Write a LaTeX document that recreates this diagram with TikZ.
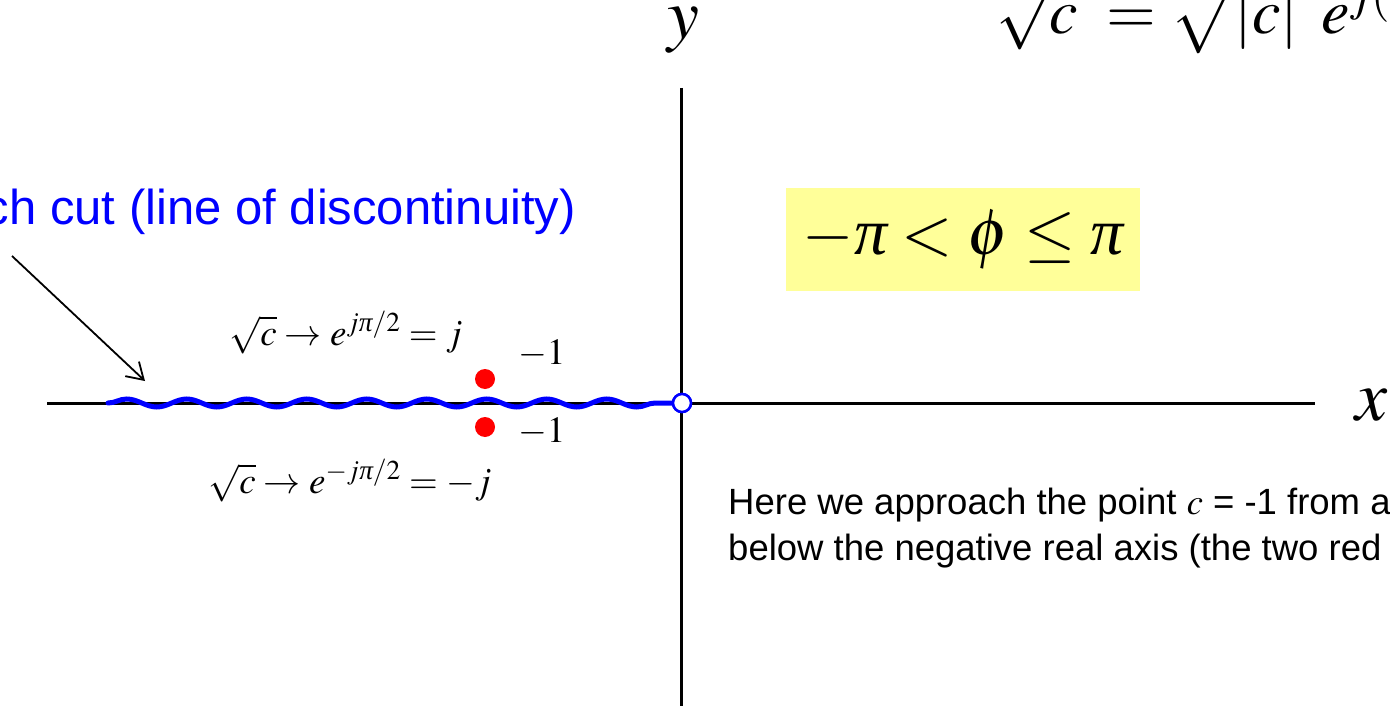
\documentclass[tikz,border=0pt]{standalone}
\usepackage{mathptmx}
\usepackage{amsmath}
\usepackage{fontspec}
\setmainfont{Liberation Serif}
\setsansfont{Liberation Sans}
\usetikzlibrary{decorations.pathmorphing,arrows.meta}
\definecolor{yfill}{HTML}{FFFF99}
\newcommand{\ipi}{\text{\rmfamily\itshape π}}
\tikzset{
  axis/.style={line width=3pt, black},
  cut/.style={blue, line width=5pt, line cap=round, decorate, decoration={snake, segment length=60pt, amplitude=4pt}},
  reddot/.style={circle, fill=red, minimum size=20pt, inner sep=0pt},
  mlbl/.style={inner sep=0pt, font=\fontsize{37}{44}\selectfont},
  fml/.style={inner sep=0pt, font=\fontsize{37}{44}\selectfont},
  pointer/.style={line width=1.8pt, -{Straight Barb[length=16pt,width=20pt,line width=1.8pt]}},
}
\begin{document}
\begin{tikzpicture}[x=1pt,y=-1pt]
\useasboundingbox (0,0) rectangle (1390,706);
\clip (0,0) rectangle (1390,706);
% axes
\coordinate (xl) at (47,403);
\coordinate (xr) at (1315,403);
\coordinate (yt) at (681,88);
\coordinate (yb) at (681,710);
\draw[axis] (xl) -- (xr);
\draw[axis] (yt) -- (yb);
\node[inner sep=0pt, font=\fontsize{72}{80}\selectfont] (ylab) at (683,30) {$y$};
\node[inner sep=0pt, font=\fontsize{72}{80}\selectfont] (xlab) at (1372,405) {$x$};
% branch cut
\node[circle, draw=blue, fill=white, line width=2.5pt, minimum size=18pt, inner sep=0pt] (o) at (682,403) {};
\coordinate (cs) at (108,403);
\draw[cut] (cs) -- (o.west);
\node[circle, draw=blue, fill=white, line width=2.5pt, minimum size=18pt, inner sep=0pt] (o2) at (682,403) {};
% red dots
\node[reddot] (p1) at (485,379) {};
\node[reddot] (p2) at (485,427) {};
\node[mlbl, anchor=west] (m1) at (518,354) {$-1$};
\node[mlbl, anchor=west] (m2) at (518,432) {$-1$};
% formulas
\node[fml] (fu) at (346,333) {$\sqrt{c}\to e^{j\ipi/2}=j$};
\node[fml] (fl) at (350,481) {$\sqrt{c}\to e^{-j\ipi/2}=-j$};
% yellow box
\node[fill=yfill, minimum width=354pt, minimum height=103pt, inner sep=0pt, font=\fontsize{66}{78}\selectfont] (box) at (963,239.5) {$-\ipi<\phi\le\ipi$};
% top formula
\node[anchor=base west, inner sep=0pt, font=\fontsize{64}{76}\selectfont] (top) at (996,34) {$\sqrt{c}\;=\sqrt{|c|}\ \,e^{j(\phi/2)}$};
% branch cut label
\node[anchor=base east, inner sep=0pt, text=blue, font=\sffamily\fontsize{49}{58}\selectfont] (bc) at (576,224) {Branch cut (line of discontinuity)};
\coordinate (as) at (12,256);
\coordinate (ae) at (145,381);
\draw[pointer] (as) -- (ae);
% explanation
\node[anchor=base west, inner sep=0pt, align=left, font=\sffamily\fontsize{36.5}{46}\selectfont] (txt) at (728,560) {Here we approach the point $c$ = -1 from a\\below the negative real axis (the two red};
\end{tikzpicture}
\end{document}
